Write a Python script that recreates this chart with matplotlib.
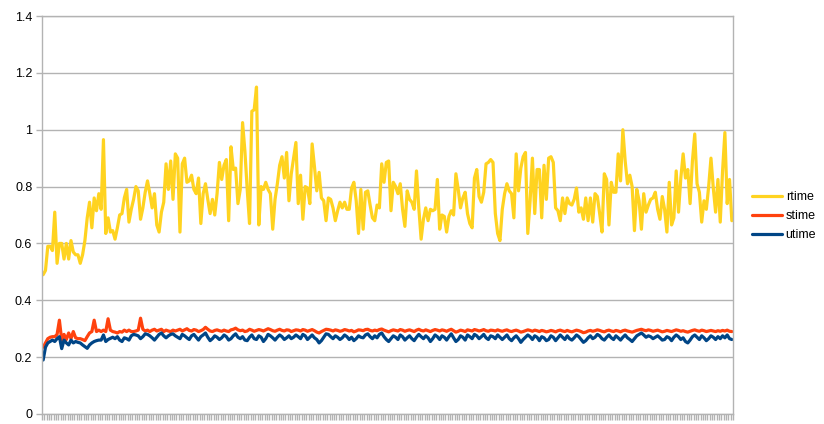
import matplotlib
matplotlib.use("Agg")
import matplotlib.pyplot as plt
import numpy as np

SERIES = ["rtime", "stime", "utime"]

rtime = [
    0.49, 0.505, 0.59, 0.59, 0.575, 0.71, 0.53, 0.60, 0.60, 0.545,
    0.60, 0.545, 0.61, 0.57, 0.56, 0.56, 0.53, 0.56, 0.61, 0.69,
    0.745, 0.655, 0.76, 0.715, 0.775, 0.72, 0.965, 0.635, 0.69, 0.64,
    0.645, 0.615, 0.655, 0.70, 0.705, 0.76, 0.79, 0.675, 0.72, 0.755,
    0.80, 0.785, 0.685, 0.725, 0.78, 0.82, 0.775, 0.725, 0.775, 0.665,
    0.64, 0.71, 0.745, 0.88, 0.79, 0.89, 0.755, 0.915,
    0.90, 0.64, 0.88, 0.90, 0.815, 0.82, 0.84, 0.79, 0.775, 0.83,
    0.67, 0.775, 0.81, 0.755, 0.705, 0.755, 0.70, 0.775, 0.885, 0.825,
    0.875, 0.895, 0.68, 0.94, 0.86, 0.865, 0.74, 0.79, 1.025, 0.925,
    0.79, 0.67, 1.065, 1.07, 1.15, 0.665, 0.80, 0.79, 0.815, 0.79,
    0.775, 0.65, 0.755, 0.81, 0.875, 0.905, 0.83, 0.92, 0.75, 0.845,
    0.90, 0.955, 0.74, 0.84, 0.685, 0.80, 0.795, 0.74, 0.95,
    0.87, 0.785, 0.85, 0.76, 0.75, 0.68, 0.76, 0.755, 0.725, 0.68,
    0.715, 0.745, 0.725, 0.745, 0.72, 0.72, 0.795, 0.815, 0.75, 0.635,
    0.79, 0.65, 0.78, 0.785, 0.735, 0.69, 0.68, 0.735, 0.725, 0.88,
    0.815, 0.885, 0.89, 0.715, 0.815, 0.80, 0.775, 0.81, 0.72, 0.66,
    0.785, 0.755, 0.745, 0.72, 0.855, 0.725, 0.615, 0.685, 0.725, 0.68,
    0.72, 0.715, 0.72, 0.825, 0.65, 0.70, 0.695, 0.64, 0.695, 0.715,
    0.70, 0.845, 0.79, 0.725, 0.76, 0.78, 0.705, 0.67, 0.655, 0.83,
    0.86, 0.765, 0.745, 0.78, 0.88, 0.885, 0.895, 0.885, 0.705, 0.635,
    0.61, 0.72, 0.775, 0.81, 0.785, 0.775, 0.69, 0.915, 0.785, 0.865,
    0.905, 0.92, 0.635, 0.75, 0.90, 0.705, 0.86, 0.86, 0.69, 0.875,
    0.755, 0.90, 0.905, 0.885, 0.725, 0.715, 0.68, 0.76, 0.705, 0.76,
    0.74, 0.735, 0.755, 0.795, 0.71, 0.725, 0.685, 0.76, 0.68, 0.76,
    0.675, 0.775, 0.765, 0.705, 0.64, 0.845, 0.825, 0.665, 0.815, 0.78,
    0.78, 0.915, 0.82, 1.0, 0.89, 0.81, 0.84, 0.80, 0.645, 0.79,
    0.75, 0.65, 0.775, 0.71, 0.735, 0.755, 0.76, 0.78, 0.72, 0.685,
    0.765, 0.72, 0.64, 0.815, 0.665, 0.69, 0.855, 0.71, 0.83, 0.915,
    0.83, 0.86, 0.74, 0.89, 0.985, 0.81, 0.78, 0.675, 0.75, 0.72,
    0.80, 0.90, 0.795, 0.71, 0.825, 0.675, 0.855, 0.99, 0.74, 0.825,
    0.68,
]

stime = [
    0.235, 0.25, 0.265, 0.27, 0.272, 0.272, 0.28, 0.33, 0.26, 0.28,
    0.262, 0.285, 0.265, 0.29, 0.268, 0.265, 0.265, 0.262, 0.258, 0.272,
    0.285, 0.29, 0.33, 0.29, 0.295, 0.29, 0.295, 0.29, 0.335, 0.295,
    0.29, 0.288, 0.285, 0.29, 0.288, 0.295, 0.29, 0.295, 0.29, 0.29,
    0.292, 0.295, 0.337, 0.298, 0.292, 0.295, 0.29, 0.295, 0.298, 0.292,
    0.295, 0.298, 0.29, 0.295, 0.292, 0.29, 0.295, 0.292,
    0.295, 0.298, 0.292, 0.296, 0.3, 0.294, 0.292, 0.297, 0.295, 0.29,
    0.293, 0.297, 0.305, 0.298, 0.292, 0.29, 0.294, 0.296, 0.293, 0.291,
    0.295, 0.292, 0.29, 0.296, 0.298, 0.302, 0.296, 0.293, 0.295, 0.29,
    0.292, 0.298, 0.295, 0.291, 0.294, 0.297, 0.295, 0.292, 0.296, 0.3,
    0.297, 0.293, 0.291, 0.295, 0.298, 0.294, 0.292, 0.296, 0.295, 0.29,
    0.293, 0.296, 0.295, 0.292, 0.297, 0.295, 0.291, 0.294, 0.297, 0.293,
    0.288, 0.285, 0.29, 0.294, 0.298, 0.297, 0.295, 0.292, 0.296, 0.294,
    0.291, 0.293, 0.297, 0.295, 0.292, 0.294, 0.289, 0.292, 0.296, 0.295,
    0.293, 0.297, 0.298, 0.294, 0.292, 0.295, 0.293, 0.297, 0.299, 0.295,
    0.292, 0.289, 0.293, 0.296, 0.294, 0.292, 0.297, 0.295, 0.291, 0.294,
    0.296, 0.293, 0.29, 0.295, 0.298, 0.294, 0.292, 0.296, 0.293, 0.29,
    0.294, 0.297, 0.295, 0.292, 0.296, 0.294, 0.291, 0.295, 0.298, 0.293,
    0.288, 0.291, 0.295, 0.293, 0.29, 0.296, 0.294, 0.292, 0.297, 0.295,
    0.292, 0.294, 0.297, 0.293, 0.291, 0.295, 0.294, 0.292, 0.296, 0.293,
    0.291, 0.294, 0.296, 0.292, 0.29, 0.293, 0.295, 0.292, 0.288, 0.29,
    0.293, 0.296, 0.294, 0.291, 0.295, 0.293, 0.29, 0.294, 0.292, 0.289,
    0.291, 0.294, 0.292, 0.289, 0.293, 0.295, 0.292, 0.29, 0.294, 0.291,
    0.289, 0.292, 0.295, 0.293, 0.29, 0.286, 0.288, 0.292, 0.294, 0.291,
    0.293, 0.296, 0.294, 0.291, 0.289, 0.293, 0.295, 0.292, 0.29, 0.294,
    0.292, 0.289, 0.293, 0.295, 0.292, 0.29, 0.288, 0.291, 0.294, 0.296,
    0.298, 0.295, 0.293, 0.296, 0.294, 0.291, 0.293, 0.295, 0.292, 0.289,
    0.291, 0.294, 0.292, 0.29, 0.293, 0.296, 0.294, 0.291, 0.293, 0.29,
    0.288, 0.291, 0.294, 0.296, 0.293, 0.291, 0.295, 0.293, 0.29, 0.292,
    0.294, 0.292, 0.29, 0.293, 0.291, 0.294, 0.292, 0.295, 0.291, 0.29,
]

utime = [
    0.19, 0.235, 0.25, 0.255, 0.26, 0.255, 0.265, 0.272, 0.23, 0.26,
    0.25, 0.243, 0.26, 0.25, 0.255, 0.252, 0.25, 0.243, 0.237, 0.231,
    0.243, 0.25, 0.255, 0.258, 0.26, 0.26, 0.278, 0.255, 0.262, 0.266,
    0.27, 0.265, 0.272, 0.26, 0.255, 0.268, 0.265, 0.26, 0.275, 0.28,
    0.278, 0.275, 0.265, 0.272, 0.282, 0.28, 0.275, 0.268, 0.26, 0.27,
    0.28, 0.285, 0.275, 0.268, 0.275, 0.28, 0.282, 0.275,
    0.27, 0.265, 0.28, 0.275, 0.268, 0.262, 0.275, 0.28, 0.27, 0.26,
    0.272, 0.278, 0.285, 0.27, 0.258, 0.265, 0.275, 0.27, 0.262, 0.268,
    0.278, 0.272, 0.26, 0.265, 0.275, 0.282, 0.27, 0.265, 0.272, 0.26,
    0.258, 0.27, 0.278, 0.265, 0.262, 0.275, 0.27, 0.255, 0.265, 0.28,
    0.275, 0.268, 0.26, 0.27, 0.278, 0.272, 0.262, 0.268, 0.275, 0.265,
    0.27, 0.278, 0.272, 0.265, 0.28, 0.275, 0.262, 0.27, 0.278, 0.268,
    0.262, 0.25, 0.258, 0.27, 0.282, 0.28, 0.272, 0.265, 0.275, 0.27,
    0.262, 0.268, 0.278, 0.272, 0.262, 0.27, 0.258, 0.265, 0.275, 0.27,
    0.268, 0.278, 0.282, 0.272, 0.265, 0.275, 0.268, 0.28, 0.285, 0.272,
    0.262, 0.255, 0.265, 0.275, 0.27, 0.262, 0.278, 0.272, 0.26, 0.268,
    0.275, 0.265, 0.258, 0.27, 0.28, 0.272, 0.265, 0.275, 0.268, 0.255,
    0.265, 0.278, 0.272, 0.262, 0.275, 0.27, 0.26, 0.272, 0.282, 0.268,
    0.255, 0.262, 0.275, 0.27, 0.26, 0.278, 0.272, 0.265, 0.28, 0.275,
    0.265, 0.272, 0.28, 0.268, 0.262, 0.275, 0.272, 0.265, 0.278, 0.27,
    0.262, 0.27, 0.278, 0.265, 0.258, 0.268, 0.275, 0.265, 0.252, 0.262,
    0.27, 0.278, 0.272, 0.262, 0.275, 0.27, 0.258, 0.272, 0.268, 0.258,
    0.262, 0.275, 0.27, 0.258, 0.268, 0.278, 0.27, 0.262, 0.275, 0.265,
    0.26, 0.268, 0.278, 0.272, 0.262, 0.252, 0.258, 0.268, 0.275, 0.265,
    0.27, 0.28, 0.275, 0.265, 0.26, 0.27, 0.278, 0.268, 0.262, 0.275,
    0.268, 0.26, 0.27, 0.278, 0.268, 0.262, 0.255, 0.265, 0.275, 0.28,
    0.285, 0.278, 0.27, 0.275, 0.272, 0.265, 0.27, 0.275, 0.268, 0.26,
    0.262, 0.272, 0.268, 0.258, 0.27, 0.278, 0.272, 0.262, 0.268, 0.255,
    0.25, 0.26, 0.272, 0.278, 0.27, 0.262, 0.275, 0.268, 0.258, 0.265,
    0.275, 0.27, 0.262, 0.272, 0.265, 0.275, 0.268, 0.278, 0.265, 0.262,
]

y_ticks = [0, 0.2, 0.4, 0.6, 0.8, 1.0, 1.2, 1.4]
y_labels = ["0", "0.2", "0.4", "0.6", "0.8", "1", "1.2", "1.4"]

COLORS = {"rtime": "#ffd320", "stime": "#ff420e", "utime": "#004586"}
GRID = "#b3b3b3"

plt.rcParams["font.family"] = ["Liberation Sans", "DejaVu Sans"]

n = min(len(rtime), len(stime), len(utime))
data = {"rtime": rtime[:n], "stime": stime[:n], "utime": utime[:n]}
x = np.arange(n)

fig = plt.figure(figsize=(8.24, 4.24), dpi=100)
ax = fig.add_axes([42 / 824, 10 / 424, 691 / 824, 398 / 424])

for name in SERIES:
    ax.plot(x, data[name], color=COLORS[name], lw=2.3, label=name,
            solid_joinstyle="round", solid_capstyle="round")

ax.set_xlim(-0.5, n - 0.5)
ax.set_ylim(0, 1.4)
ax.set_yticks(y_ticks)
ax.set_yticklabels(y_labels)
ax.set_xticks(np.arange(n + 1) - 0.5)
ax.set_xticklabels([])
ax.yaxis.grid(True, color=GRID, lw=1)
ax.set_axisbelow(True)
for s in ax.spines.values():
    s.set_color(GRID)
    s.set_linewidth(1)
ax.tick_params(axis="both", color=GRID, length=4, width=1, labelsize=9,
               labelcolor="#000000")
ax.tick_params(axis="y", pad=3)

fig.legend(loc="center left", bbox_to_anchor=(752 / 824, 1 - 216 / 424),
           frameon=False, fontsize=9, handlelength=2.4, handletextpad=0.3,
           labelspacing=0.55, borderaxespad=0, borderpad=0)

fig.savefig("out.png", dpi=100)
